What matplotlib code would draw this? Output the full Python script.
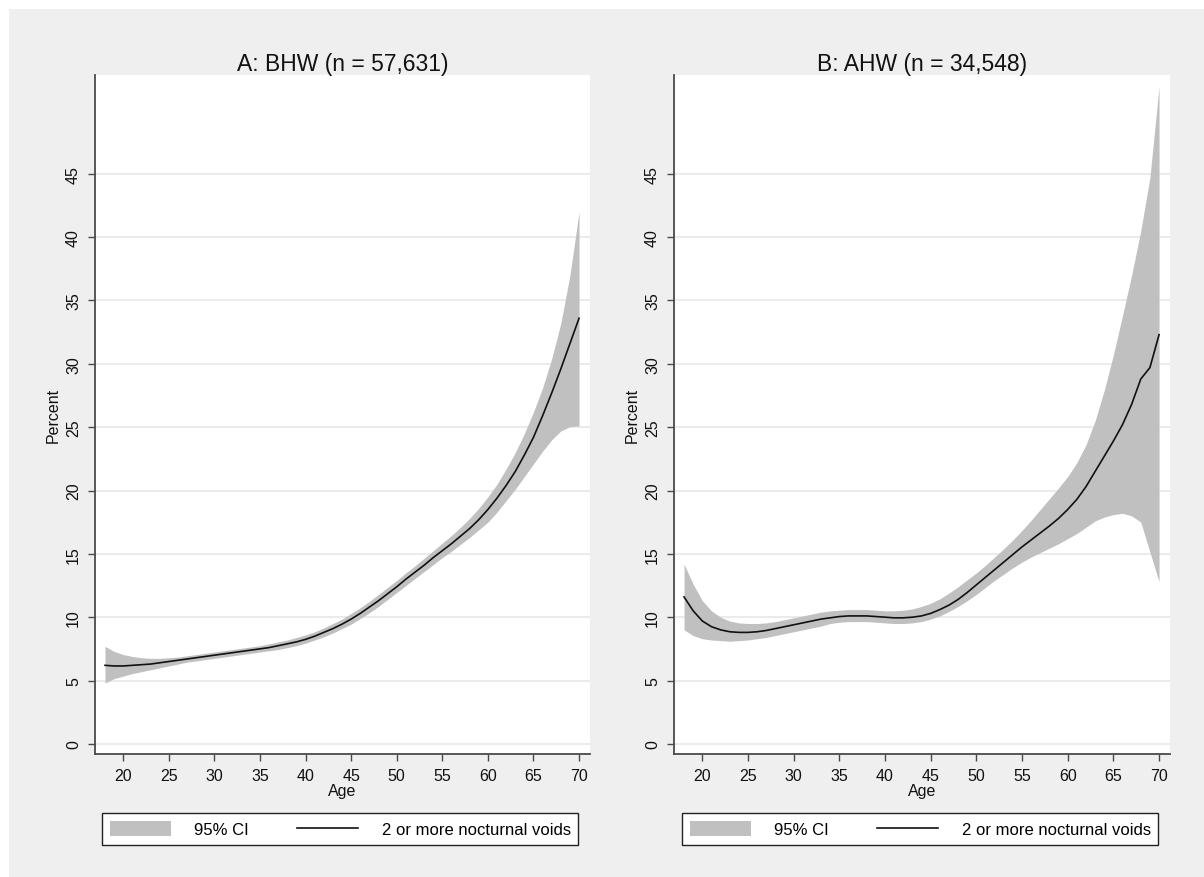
import matplotlib
matplotlib.use('Agg')
import matplotlib.pyplot as plt
from matplotlib.patches import Rectangle, Patch
from matplotlib.lines import Line2D

plt.rcParams['font.family'] = ['Liberation Sans', 'DejaVu Sans']

# ---------------- data ----------------
age = list(range(18, 71))

bhw_line = [6.2, 6.15, 6.15, 6.2, 6.25, 6.3, 6.4, 6.5, 6.6, 6.7, 6.8, 6.9,
            7.0, 7.1, 7.2, 7.3, 7.4, 7.5, 7.6, 7.75, 7.9, 8.05,
            8.25, 8.5, 8.8, 9.1, 9.45, 9.85, 10.3, 10.8, 11.3, 11.85,
            12.4, 13.0, 13.55, 14.1, 14.7, 15.25, 15.8, 16.4, 17.0, 17.7,
            18.5, 19.4, 20.4, 21.5, 22.8, 24.2, 25.9, 27.7, 29.6, 31.6, 33.6]
bhw_upper = [7.7, 7.3, 7.05, 6.9, 6.8, 6.75, 6.75, 6.8, 6.85, 6.95, 7.05, 7.15,
             7.25, 7.35, 7.45, 7.55, 7.65, 7.75, 7.9, 8.05, 8.2, 8.4,
             8.6, 8.85, 9.15, 9.5, 9.85, 10.3, 10.75, 11.25, 11.8, 12.35,
             12.9, 13.5, 14.05, 14.65, 15.25, 15.85, 16.45, 17.1, 17.8, 18.6,
             19.5, 20.5, 21.7, 23.0, 24.5, 26.2, 28.1, 30.4, 33.2, 37.0, 42.0]
bhw_lower = [4.8, 5.15, 5.35, 5.55, 5.7, 5.85, 6.0, 6.15, 6.3, 6.45, 6.55, 6.65,
             6.75, 6.85, 6.95, 7.05, 7.15, 7.25, 7.35, 7.45, 7.6, 7.75,
             7.95, 8.2, 8.45, 8.75, 9.1, 9.45, 9.9, 10.35, 10.85, 11.4,
             11.95, 12.5, 13.05, 13.6, 14.15, 14.7, 15.2, 15.75, 16.3, 16.9,
             17.5, 18.3, 19.2, 20.1, 21.1, 22.1, 23.1, 24.0, 24.7, 25.05, 25.1]

ahw_line = [11.6, 10.5, 9.7, 9.25, 9.0, 8.85, 8.8, 8.8, 8.85, 8.95, 9.1, 9.25,
            9.4, 9.55, 9.7, 9.85, 9.95, 10.05, 10.1, 10.1, 10.1, 10.05,
            10.0, 9.95, 9.95, 10.0, 10.1, 10.3, 10.6, 10.95, 11.4, 11.95,
            12.55, 13.15, 13.75, 14.35, 14.95, 15.55, 16.1, 16.65, 17.2, 17.8,
            18.5, 19.3, 20.3, 21.5, 22.7, 23.9, 25.2, 26.8, 28.8, 29.7, 32.3]
ahw_upper = [14.2, 12.6, 11.3, 10.5, 10.0, 9.7, 9.55, 9.5, 9.5, 9.55, 9.65, 9.8,
             9.95, 10.1, 10.25, 10.4, 10.5, 10.55, 10.6, 10.6, 10.6, 10.55,
             10.5, 10.5, 10.55, 10.65, 10.85, 11.1, 11.45, 11.9, 12.4, 12.95,
             13.5, 14.1, 14.75, 15.4, 16.1, 16.85, 17.65, 18.5, 19.35, 20.2,
             21.1, 22.2, 23.6, 25.5, 27.9, 30.7, 33.8, 37.0, 40.5, 44.7, 51.9]
ahw_lower = [9.0, 8.55, 8.3, 8.2, 8.15, 8.1, 8.15, 8.2, 8.3, 8.4, 8.55, 8.7,
             8.85, 9.0, 9.15, 9.3, 9.5, 9.6, 9.65, 9.65, 9.65, 9.6,
             9.55, 9.5, 9.5, 9.55, 9.65, 9.85, 10.1, 10.45, 10.85, 11.3,
             11.8, 12.35, 12.9, 13.4, 13.9, 14.35, 14.75, 15.1, 15.45, 15.8,
             16.2, 16.6, 17.1, 17.6, 17.9, 18.1, 18.2, 18.0, 17.5, 15.15, 12.8]

titles = ['A: BHW (n = 57,631)', 'B: AHW (n = 34,548)']
x_ticks = [20, 25, 30, 35, 40, 45, 50, 55, 60, 65, 70]
y_ticks = [0, 5, 10, 15, 20, 25, 30, 35, 40, 45]
legend_labels = ['95% CI', '2 or more nocturnal voids']

# ---------------- figure ----------------
W, H = 1204, 878
fig = plt.figure(figsize=(W / 100, H / 100), dpi=100, facecolor='white')
bg = '#efefef'
fig.patches.append(Rectangle((9 / W, 0), 1 - 9 / W, 1 - 10 / H,
                             transform=fig.transFigure, facecolor=bg,
                             edgecolor='none', zorder=-10))

band_col = '#c0c0c0'
spine_col = '#4a4a4a'

panels = [
    (95, 590, titles[0], bhw_line, bhw_lower, bhw_upper, 102),
    (674, 1170, titles[1], ahw_line, ahw_lower, ahw_upper, 682),
]

for (x0, x1, title, line, lower, upper, lx0) in panels:
    ax = fig.add_axes([x0 / W, (H - 755) / H, (x1 - x0) / W, (755 - 76) / H])
    ax.set_facecolor('white')
    ax.fill_between(age, lower, upper, color=band_col, linewidth=0, zorder=2)
    ax.plot(age, line, color='#111111', linewidth=1.2, zorder=3)
    ax.set_xlim(16.9, 71.2)
    ax.set_ylim(-0.8, 52.8)
    ax.set_xticks(x_ticks)
    ax.set_yticks(y_ticks)
    ax.yaxis.grid(True, color='#e8e8e8', linewidth=1.2, zorder=0)
    ax.set_axisbelow(True)
    for s in ['top', 'right']:
        ax.spines[s].set_visible(False)
    for s in ['left', 'bottom']:
        ax.spines[s].set_color(spine_col)
        ax.spines[s].set_linewidth(1.3)
    ax.tick_params(axis='both', direction='out', length=5, width=1,
                   color=spine_col, labelsize=11.5, labelcolor='#111111', pad=5)
    for lab in ax.get_yticklabels():
        lab.set_rotation(90)
        lab.set_va('center')
    ax.set_xlabel('Age', fontsize=11.5, labelpad=0, color='#111111')
    ax.set_ylabel('Percent', fontsize=11.5, labelpad=4, color='#111111')
    ax.set_title(title, fontsize=16.5, pad=3, color='#111111')

    handles = [Patch(facecolor=band_col, edgecolor='none'),
               Line2D([0], [0], color='#111111', linewidth=1.2)]
    leg = fig.legend(handles, legend_labels, loc='center left',
                     bbox_to_anchor=(lx0 / W, (H - 830) / H),
                     bbox_transform=fig.transFigure, ncol=2,
                     fontsize=12, frameon=True, fancybox=False,
                     edgecolor='#222222', facecolor='white', framealpha=1,
                     borderaxespad=0, borderpad=0.45, handlelength=3.7,
                     handleheight=1.0, handletextpad=1.4, columnspacing=2.85)
    leg.get_frame().set_linewidth(1.0)

fig.savefig('out.png', dpi=100, facecolor=fig.get_facecolor())
